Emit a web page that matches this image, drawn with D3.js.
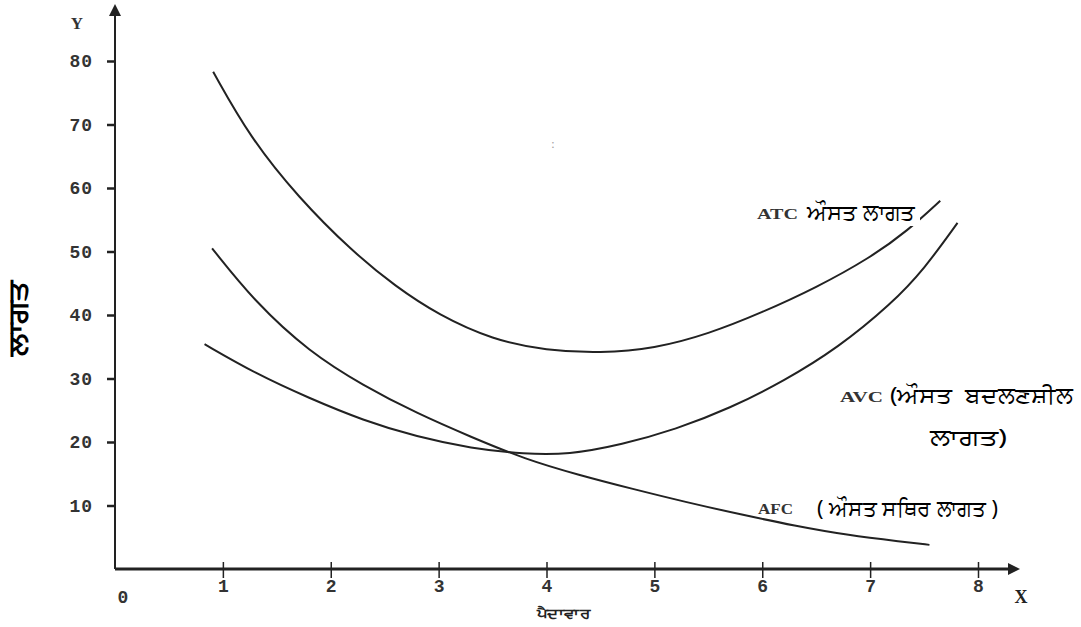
<!DOCTYPE html>
<html>
<head>
<meta charset="utf-8">
<script src="https://cdn.jsdelivr.net/npm/d3@7"></script>
<style>
  html, body { margin: 0; padding: 0; background: #fff; }
  svg { display: block; }
</style>
</head>
<body>
<div id="chart"></div>
<script>
// ---- data ----
const xTicks = [1, 2, 3, 4, 5, 6, 7, 8];
const yTicks = [10, 20, 30, 40, 50, 60, 70, 80];

const atcQ = [0.91, 1.25, 1.7, 2.2, 2.6, 3.0, 3.5, 4.0, 4.5, 5.0, 5.5, 6.0, 6.5, 7.0, 7.35, 7.65];
const atcV = [78.3, 68.0, 58.5, 50.0, 44.5, 40.0, 36.1, 34.4, 34.0, 34.7, 37.0, 40.4, 44.3, 49.0, 53.3, 58.0];

const avcQ = [0.83, 1.3, 1.8, 2.3, 2.8, 3.3, 3.8, 4.2, 4.7, 5.2, 5.7, 6.2, 6.7, 7.2, 7.5, 7.81];
const avcV = [35.4, 30.8, 26.9, 23.4, 20.8, 19.0, 18.1, 18.0, 19.6, 22.0, 25.3, 29.6, 34.8, 41.8, 47.2, 54.5];

const afcQ = [0.9, 1.3, 1.8, 2.3, 2.8, 3.3, 3.8, 4.3, 4.8, 5.3, 5.8, 6.3, 6.8, 7.3, 7.55];
const afcV = [50.5, 42.0, 34.2, 28.9, 24.5, 20.8, 17.3, 14.8, 12.6, 10.5, 8.6, 6.8, 5.3, 4.3, 3.8];

const yTitle = "ਲਾਗਤ";
const xTitle = "ਪੈਦਾਵਾਰ";
const atcLabel = ["ATC", "ਔਸਤ ਲਾਗਤ"];
const avcLabel = ["AVC", "(ਔਸਤ  ਬਦਲਣਸ਼ੀਲ", "ਲਾਗਤ)"];
const afcLabel = ["AFC", "( ਔਸਤ ਸਥਿਰ ਲਾਗਤ )"];

// ---- layout ----
const W = 1081, H = 627;
const svg = d3.select("#chart").append("svg").attr("width", W).attr("height", H);

const x = d3.scaleLinear().domain([0, 8]).range([115, 978]);
const y = d3.scaleLinear().domain([0, 80]).range([569, 61]);

const tickFont = "'Liberation Mono', 'DejaVu Sans Mono', monospace";
const ink = "#222";
const serif = "'Liberation Serif', 'DejaVu Serif', serif";
const pa = "'Noto Sans', sans-serif";

// axes lines with arrows
svg.append("line").attr("x1", x(0)).attr("y1", y(0)).attr("x2", x(0)).attr("y2", 14)
  .attr("stroke", ink).attr("stroke-width", 2);
svg.append("path").attr("d", `M${x(0)-6},16 L${x(0)},4 L${x(0)+6},16 Z`).attr("fill", ink);

svg.append("line").attr("x1", x(0)).attr("y1", y(0)).attr("x2", 1010).attr("y2", y(0))
  .attr("stroke", ink).attr("stroke-width", 3);
svg.append("path").attr("d", `M1008,${y(0)-6} L1020,${y(0)} L1008,${y(0)+6} Z`).attr("fill", ink);

// y ticks
const yAxis = d3.axisLeft(y).tickValues(yTicks).tickSize(8).tickPadding(14);
const gy = svg.append("g").attr("transform", `translate(${x(0)},0)`).call(yAxis);
gy.select(".domain").remove();
gy.selectAll(".tick line").attr("stroke", ink).attr("stroke-width", 2.5);
gy.selectAll(".tick text").attr("font-family", tickFont).attr("font-weight", "bold")
  .attr("font-size", 18).attr("fill", "#333").attr("letter-spacing", 1);

// x ticks
const xAxis = d3.axisBottom(x).tickValues(xTicks).tickSize(16).tickPadding(10);
const gx = svg.append("g").attr("transform", `translate(0,${y(0) - 7})`).call(xAxis);
gx.select(".domain").remove();
gx.selectAll(".tick line").attr("stroke", ink).attr("stroke-width", 1.5);
gx.selectAll(".tick text").attr("font-family", tickFont).attr("font-weight", "bold")
  .attr("font-size", 18).attr("fill", "#333").attr("dy", "0.2em");

// axis end labels
svg.append("text").attr("x", 123).attr("y", 603).attr("text-anchor", "middle")
  .attr("font-family", tickFont).attr("font-weight", "bold").attr("font-size", 18).attr("fill", "#333").text("0");
svg.append("text").attr("x", 1021).attr("y", 603).attr("text-anchor", "middle")
  .attr("font-family", serif).attr("font-weight", "bold").attr("font-size", 18).attr("fill", ink).text("X");
svg.append("text").attr("x", 77).attr("y", 29).attr("text-anchor", "middle")
  .attr("font-family", serif).attr("font-weight", "bold").attr("font-size", 17).attr("fill", "#333").text("Y");

// axis titles
svg.append("text").attr("transform", `translate(27,318) rotate(-90)`).attr("text-anchor", "middle")
  .attr("font-family", pa).attr("font-size", 26).attr("font-weight", "bold")
  .attr("fill", "#000").attr("textLength", 76).attr("lengthAdjust", "spacingAndGlyphs").text(yTitle);
svg.append("text").attr("x", 537).attr("y", 618)
  .attr("font-family", pa).attr("font-size", 13).attr("font-weight", "bold")
  .attr("fill", ink).attr("textLength", 53).attr("lengthAdjust", "spacingAndGlyphs").text(xTitle);

// faint speck in the picture
svg.append("text").attr("x", 553).attr("y", 148).attr("text-anchor", "middle")
  .attr("font-family", serif).attr("font-size", 12).attr("fill", "#999").text(":");

// curves
const line = d3.line().x(d => x(d[0])).y(d => y(d[1])).curve(d3.curveBasis);
const series = [
  { q: atcQ, v: atcV },
  { q: avcQ, v: avcV },
  { q: afcQ, v: afcV }
];
series.forEach(s => {
  svg.append("path").datum(s.q.map((q, i) => [q, s.v[i]]))
    .attr("d", line).attr("fill", "none").attr("stroke", ink).attr("stroke-width", 2);
});

// labels
function abbr(xx, yy, t, len) {
  svg.append("text").attr("x", xx).attr("y", yy).attr("font-family", serif).attr("font-weight", "bold")
    .attr("font-size", 15).attr("fill", "#333")
    .attr("textLength", len).attr("lengthAdjust", "spacingAndGlyphs").text(t);
}
function pun(xx, yy, t, len, size) {
  svg.append("text").attr("x", xx).attr("y", yy).attr("font-family", pa).attr("font-size", size)
    .attr("fill", "#000").style("white-space", "pre")
    .attr("textLength", len).attr("lengthAdjust", "spacingAndGlyphs").text(t);
}

// ATC
svg.append("rect").attr("x", 803).attr("y", 198).attr("width", 117).attr("height", 28).attr("fill", "#fff");
abbr(757, 219, atcLabel[0], 41);
pun(807, 220, atcLabel[1], 108, 22);

// AVC
abbr(840, 402, avcLabel[0], 43);
pun(890, 403, avcLabel[1], 183, 22);
pun(930, 445, avcLabel[2], 77, 22);

// AFC
abbr(758, 514, afcLabel[0], 35);
pun(817, 516, afcLabel[1], 181, 22);
</script>
</body>
</html>
